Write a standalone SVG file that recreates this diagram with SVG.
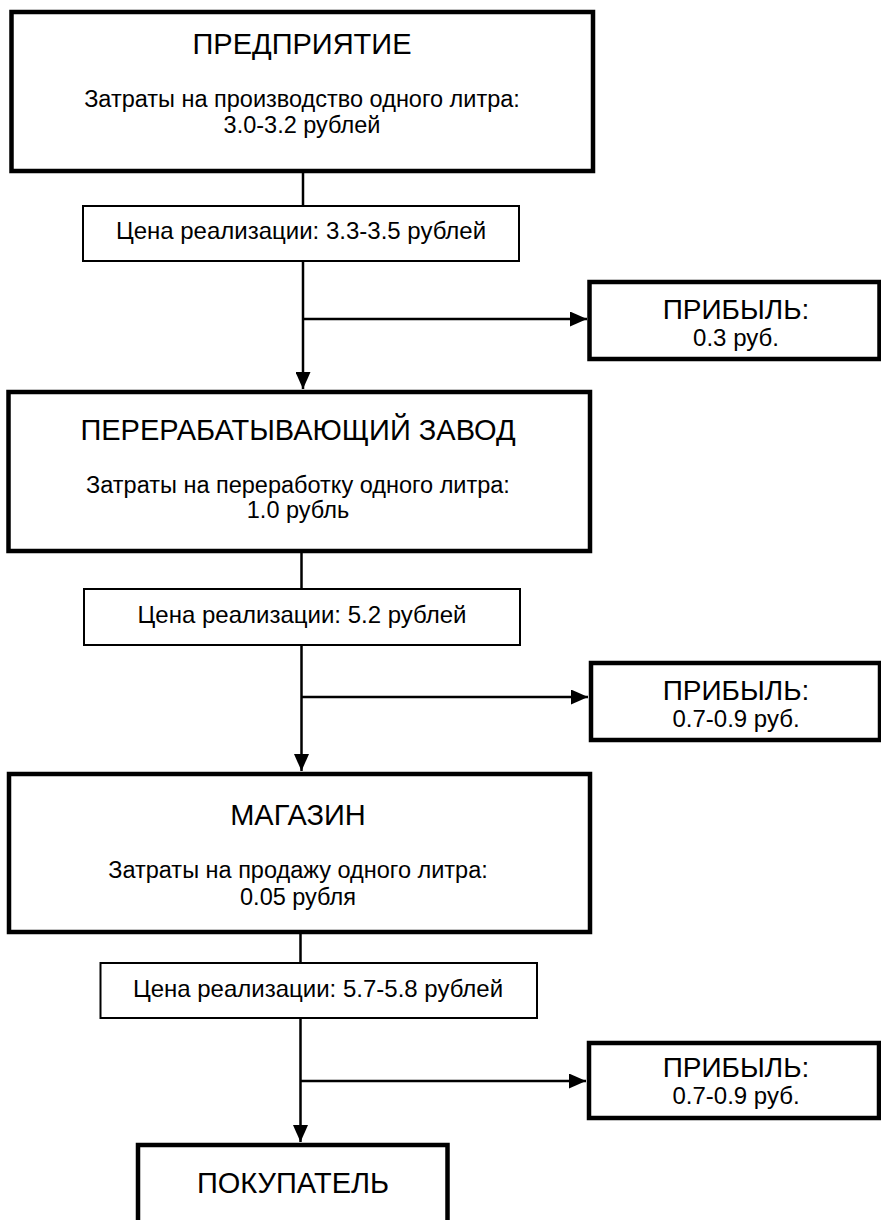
<svg xmlns="http://www.w3.org/2000/svg" width="881" height="1220" viewBox="0 0 881 1220">
<style>
text{font-family:"Liberation Sans",Arial,sans-serif;fill:#000;text-anchor:middle}
.big{fill:#fff;stroke:#000;stroke-width:4.5}
.thin{fill:#fff;stroke:#000;stroke-width:2}
.t{font-size:29px}
.pt{font-size:28px}
.s{font-size:23.5px}
.p{font-size:24px}
.c{fill:none;stroke:#000;stroke-width:2.5}
</style>
<defs>
<marker id="ah" markerUnits="userSpaceOnUse" markerWidth="17" markerHeight="15" refX="17" refY="7.5" orient="auto">
<path d="M0,0 L17,7.5 L0,15 z" fill="#000"/>
</marker>
</defs>
<rect width="881" height="1220" fill="#fff"/>
<g id="connectors">
<line class="c" x1="303" y1="171" x2="303" y2="206"/>
<line class="c" x1="303" y1="261" x2="303" y2="389" marker-end="url(#ah)"/>
<line class="c" x1="303" y1="319" x2="587" y2="319" marker-end="url(#ah)"/>
<line class="c" x1="301.5" y1="551" x2="301.5" y2="589"/>
<line class="c" x1="301.5" y1="645" x2="301.5" y2="771" marker-end="url(#ah)"/>
<line class="c" x1="301.5" y1="697" x2="588" y2="697" marker-end="url(#ah)"/>
<line class="c" x1="300.5" y1="932" x2="300.5" y2="963"/>
<line class="c" x1="300.5" y1="1018" x2="300.5" y2="1142" marker-end="url(#ah)"/>
<line class="c" x1="300.5" y1="1081" x2="586" y2="1081" marker-end="url(#ah)"/>
</g>
<g id="enterprise">
<rect class="big" x="11.5" y="12" width="581.5" height="159"/>
<text class="t" x="302" y="54">ПРЕДПРИЯТИЕ</text>
<text class="s" x="302" y="107">Затраты на производство одного литра:</text>
<text class="s" x="302" y="133">3.0-3.2 рублей</text>
</g>
<g id="price1">
<rect class="thin" x="83" y="206" width="436" height="55"/>
<text class="p" x="301" y="239">Цена реализации: 3.3-3.5 рублей</text>
</g>
<g id="profit1">
<rect class="big" x="589.5" y="282" width="290" height="77"/>
<text class="pt" x="736" y="319">ПРИБЫЛЬ:</text>
<text class="p" x="736" y="346">0.3 руб.</text>
</g>
<g id="plant">
<rect class="big" x="8.5" y="392" width="581.5" height="159"/>
<text class="t" x="298" y="440">ПЕРЕРАБАТЫВАЮЩИЙ ЗАВОД</text>
<text class="s" x="298" y="493">Затраты на переработку одного литра:</text>
<text class="s" x="298" y="518">1.0 рубль</text>
</g>
<g id="price2">
<rect class="thin" x="84" y="589" width="436" height="56"/>
<text class="p" x="302" y="623">Цена реализации: 5.2 рублей</text>
</g>
<g id="profit2">
<rect class="big" x="591" y="663" width="289" height="77"/>
<text class="pt" x="736" y="700">ПРИБЫЛЬ:</text>
<text class="p" x="736" y="727">0.7-0.9 руб.</text>
</g>
<g id="shop">
<rect class="big" x="9" y="774" width="581" height="158"/>
<text class="t" x="298" y="825">МАГАЗИН</text>
<text class="s" x="298" y="878">Затраты на продажу одного литра:</text>
<text class="s" x="298" y="905">0.05 рубля</text>
</g>
<g id="price3">
<rect class="thin" x="100.5" y="963" width="436.5" height="55"/>
<text class="p" x="318" y="997">Цена реализации: 5.7-5.8 рублей</text>
</g>
<g id="profit3">
<rect class="big" x="589" y="1043" width="290" height="75"/>
<text class="pt" x="736" y="1077">ПРИБЫЛЬ:</text>
<text class="p" x="736" y="1104">0.7-0.9 руб.</text>
</g>
<g id="buyer">
<rect class="big" x="138" y="1145" width="309.5" height="90"/>
<text class="t" x="293" y="1193">ПОКУПАТЕЛЬ</text>
</g>
</svg>
